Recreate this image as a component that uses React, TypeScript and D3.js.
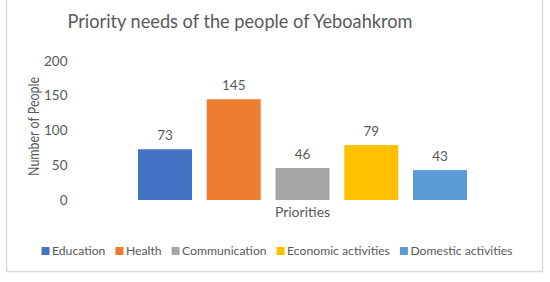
import React, { useEffect, useRef } from "react";
import * as d3 from "d3";

const categories = ["Education", "Health", "Communication", "Economic activities", "Domestic activities"];
const values = [73, 145, 46, 79, 43];
const colors = ["#4472C4", "#ED7D31", "#A5A5A5", "#FFC000", "#5B9BD5"];
const yTicks = [0, 50, 100, 150, 200];
const title = "Priority needs of the people of Yeboahkrom";
const xTitle = "Priorities";
const yTitle = "Number of People";

const FONT = "Lato, 'Open Sans', sans-serif";
const TEXT = "#595959";

export default function App() {
  const ref = useRef<SVGSVGElement>(null);
  useEffect(() => {
    const svg = d3.select(ref.current);
    svg.selectAll("*").remove();

    svg.append("rect").attr("x", 6.5).attr("y", -2).attr("width", 536).attr("height", 273.5)
      .attr("fill", "#fff").attr("stroke", "#d9d9d9").attr("stroke-width", 1.5);

    const y = d3.scaleLinear().domain([0, 200]).range([200, 61]);
    const x = d3.scaleBand().domain(categories).range([130.6, 474.4]).paddingInner(0.2145).paddingOuter(0.10725);

    svg.append("text").attr("x", 240).attr("y", 28).attr("text-anchor", "middle")
      .attr("font-family", FONT).attr("font-size", 19.5).attr("fill", TEXT).attr("textLength", 345)
      .attr("lengthAdjust", "spacingAndGlyphs").text(title);

    const g = svg.append("g");
    g.selectAll("text.tick").data(yTicks).enter().append("text")
      .attr("x", 67.5).attr("y", (d) => y(d)).attr("dy", "0.35em").attr("text-anchor", "end")
      .attr("font-family", FONT).attr("font-size", 13.5).attr("fill", TEXT).text((d) => d);

    svg.append("text").attr("transform", `translate(38.5,${(y(0) + y(200)) / 2 - 4}) rotate(-90)`)
      .attr("text-anchor", "middle").attr("font-family", FONT).attr("font-size", 15).attr("fill", TEXT)
      .attr("textLength", 99).attr("lengthAdjust", "spacingAndGlyphs")
      .text(yTitle);

    svg.append("g").selectAll("rect").data(categories).enter().append("rect")
      .attr("x", (d) => x(d)!).attr("width", x.bandwidth())
      .attr("y", (_, i) => y(values[i])).attr("height", (_, i) => y(0) - y(values[i]))
      .attr("fill", (_, i) => colors[i]);

    svg.append("g").selectAll("text").data(categories).enter().append("text")
      .attr("x", (d) => x(d)! + x.bandwidth() / 2).attr("y", (_, i) => y(values[i]) - 9)
      .attr("text-anchor", "middle").attr("font-family", FONT).attr("font-size", 13.5).attr("fill", TEXT)
      .text((_, i) => values[i]);

    svg.append("text").attr("x", (x.range()[0] + x.range()[1]) / 2).attr("y", 217).attr("text-anchor", "middle")
      .attr("font-family", FONT).attr("font-size", 14).attr("fill", TEXT).text(xTitle);

    // legend
    const lg = svg.append("g");
    const items = lg.selectAll("g").data(categories).enter().append("g");
    items.append("rect").attr("width", 8).attr("height", 8).attr("y", -4).attr("fill", (_, i) => colors[i]);
    items.append("text").attr("x", 10.5).attr("dy", "0.35em").attr("font-family", FONT).attr("font-size", 12.2)
      .attr("fill", TEXT).text((d) => d);
    const widths: number[] = [];
    items.select("text").each(function () {
      widths.push((this as SVGTextElement).getComputedTextLength());
    });
    const gap = 10;
    const total = d3.sum(widths) + widths.length * 10.5 + gap * (widths.length - 1);
    let cx = 277 - total / 2;
    items.attr("transform", (_, i) => {
      const t = `translate(${cx},251)`;
      cx += widths[i] + 10.5 + gap;
      return t;
    });
  }, []);
  return <svg ref={ref} width={550} height={282} style={{ position: "absolute", left: 0, top: 0 }} />;
}
